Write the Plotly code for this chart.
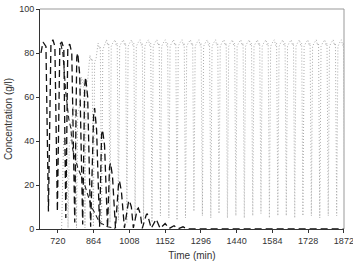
import plotly.graph_objects as go

# ---- data ----
# black long-dashed run: vertices (time, concentration)
s1_time = [652, 660, 672, 682, 692, 700, 708, 718, 728, 736, 744, 752, 760, 768, 776, 788,
           796, 800, 808, 820, 828, 832, 840, 852, 864, 868, 876, 888, 896, 900, 908, 920,
           928, 932, 940, 952, 964, 968, 976, 988, 1004, 1008, 1016, 1024, 1040, 1044, 1052,
           1060, 1076, 1080, 1096, 1116, 1132, 1152, 1168, 1188, 1204, 1224, 1240, 1872]
s1_conc = [80, 85, 83, 8, 84, 86, 83, 8, 84, 85, 82, 5, 83, 84, 80, 3,
           78, 80, 70, 2, 65, 69, 60, 1, 52, 55, 45, 1, 43, 45, 38, 0.5,
           28, 30, 24, 0.5, 20, 22, 17, 0.5, 12, 13, 10, 0.5, 9, 9.5, 7,
           0.3, 6.5, 7, 0.3, 4.5, 0.3, 2.5, 0.2, 1.5, 0.1, 1, 0, 0]

# black medium-dashed run decaying between the spikes
s2_time = [732, 740, 752, 764, 772, 780, 800, 828, 856, 888, 920, 952]
s2_conc = [84, 80, 62, 50, 46, 36, 28, 20, 10, 3, 1, 0.3]

# grey dotted run: one entry per cycle
s3_peak_time = [747, 781, 815, 849, 882, 916, 950, 984, 1017, 1051, 1085, 1119, 1153, 1186,
                1220, 1254, 1288, 1322, 1355, 1389, 1423, 1457, 1491, 1524, 1558, 1592, 1626,
                1660, 1693, 1727, 1761, 1795, 1829, 1862]
s3_peak = [42, 56, 69, 79, 84.5, 86, 86, 86, 86, 86, 86, 86, 86, 86,
           86, 86, 86, 86, 86, 86, 86, 86, 86, 86, 86, 86, 86,
           86, 86, 86, 86, 86, 86, 86]
s3_dip = [0.5, 0.5, 0.5, 1, 2, 3, 4, 3, 5, 4, 3, 6, 5, 4,
          5, 8, 6, 5, 7, 5, 6, 5, 6, 7, 5, 6, 6,
          5, 6, 6, 5, 6, 6, 6]

x_ticks = [720, 864, 1008, 1152, 1296, 1440, 1584, 1728, 1872]
y_ticks = [0, 20, 40, 60, 80, 100]

# build the dotted polyline from the per-cycle values
s3_time, s3_conc = [], []
for i, (tp, pk, dp) in enumerate(zip(s3_peak_time, s3_peak, s3_dip)):
    if i == 0:
        s3_time += [tp - 12, tp - 4]
        s3_conc += [0, pk - 2]
    s3_time += [tp, tp + 5, tp + 9, tp + 14, tp + 19, tp + 25]
    s3_conc += [pk, pk - 2.5, pk - 1.5, dp, pk - 3, pk - 1.5]

fig = go.Figure()
fig.add_trace(go.Scatter(x=s3_time, y=s3_conc, mode="lines",
                         line=dict(color="#ababab", width=1, dash="1px,2px")))
fig.add_trace(go.Scatter(x=s2_time, y=s2_conc, mode="lines",
                         line=dict(color="#222222", width=1.1, dash="5px,3px")))
fig.add_trace(go.Scatter(x=s1_time, y=s1_conc, mode="lines",
                         line=dict(color="#111111", width=1.3, dash="7px,4px")))

# lighter top and right frame lines
fig.add_shape(type="line", xref="paper", yref="paper", x0=0, x1=1, y0=1, y1=1,
              line=dict(color="#999999", width=1))
fig.add_shape(type="line", xref="paper", yref="paper", x0=1, x1=1, y0=0, y1=1,
              line=dict(color="#999999", width=1))

fig.update_layout(
    width=353, height=261,
    margin=dict(l=40, r=9, t=9, b=32, autoexpand=False),
    paper_bgcolor="white", plot_bgcolor="white",
    showlegend=False,
    font=dict(family="Liberation Sans, Arial, sans-serif", size=9, color="#333333"),
)
fig.update_xaxes(range=[648, 1872.5], tickvals=x_ticks, ticks="outside", ticklen=3,
                 tickcolor="#333", showgrid=False, zeroline=False, automargin=False,
                 showline=True, linecolor="#333", linewidth=1,
                 ticklabeloverflow="allow",
                 title=dict(text="Time (min)", font=dict(size=10), standoff=7))
fig.update_yaxes(range=[0, 100], tickvals=y_ticks, ticks="outside", ticklen=3,
                 tickcolor="#333", showgrid=False, zeroline=False, automargin=False,
                 showline=True, linecolor="#333", linewidth=1,
                 title=dict(text="Concentration (g/l)", font=dict(size=10), standoff=4))

fig.write_html("out.html")
